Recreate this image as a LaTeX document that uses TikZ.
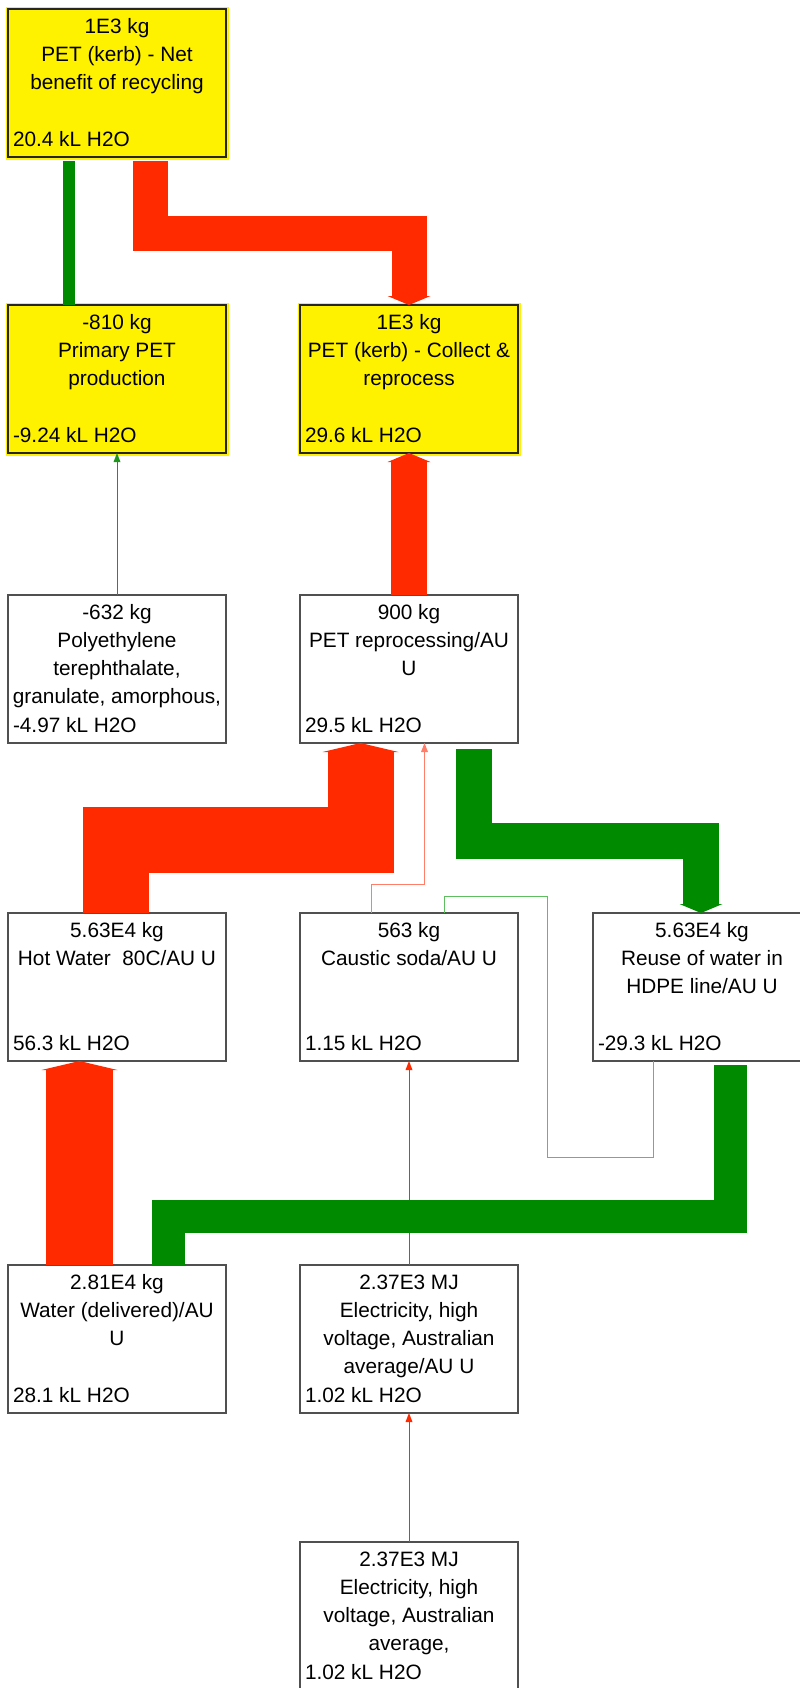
\documentclass[tikz,border=0pt]{standalone}
\usepackage{fontspec}
\setmainfont{Liberation Sans}
\usepackage{tikz}
\usetikzlibrary{positioning, calc, arrows.meta}
\definecolor{flowred}{RGB}{255,42,0}
\definecolor{flowgreen}{RGB}{0,138,0}
\definecolor{palered}{RGB}{255,125,105}
\definecolor{palegreen}{RGB}{95,190,95}
\definecolor{midgreen}{RGB}{30,150,30}
\definecolor{boxline}{RGB}{80,80,80}
\newcommand{\proctext}[2]{\parbox[c][74pt][t]{109pt}{\centering\rule{0pt}{12pt}#1\par\vskip 0pt plus 1fill\raggedright\hspace*{2.5pt}#2\par\vspace*{5.25pt}}}
\tikzstyle{procbox} = [rectangle, draw=boxline, line width=0.75pt, fill=white, inner sep=0pt, outer sep=0pt, font=\fontsize{10.4pt}{14pt}\selectfont]
\tikzstyle{netbox} = [procbox, draw=black!85, fill=yellow, preaction={draw=yellow, line width=2.5pt}]
\tikzstyle{redflow} = [color=flowred, line cap=butt, line join=miter]
\tikzstyle{greenflow} = [color=flowgreen, line cap=butt, line join=miter]
\tikzstyle{thinred} = [color=flowred, line width=0.5pt]
\tikzstyle{thinpalered} = [color=palered, line width=0.5pt]
\tikzstyle{thingreen} = [color=midgreen, line width=0.5pt]
\tikzstyle{thinpalegreen} = [color=palegreen, line width=0.5pt]
\tikzstyle{smallhead} = [-{Triangle[length=4.5pt, width=21.5pt, line width=0pt]}]
\tikzstyle{bighead} = [-{Triangle[length=4.5pt, width=38pt, line width=0pt]}]
\tikzstyle{thinhead} = [-{Triangle[length=4.5pt, width=3.5pt, line width=0pt]}]

\begin{document}
\begin{tikzpicture}[x=0.5pt, y=-0.5pt]
		\useasboundingbox (0,0) rectangle (799,1688);
		\node (netben) [netbox] at (117,83) {\proctext{1E3 kg\\PET (kerb) - Net\\benefit of recycling}{20.4 kL H2O}};
		\node (primary) [netbox, below=74pt of netben] {\proctext{-810 kg\\Primary PET\\production}{-9.24 kL H2O}};
		\node (collect) [netbox, right=37pt of primary] {\proctext{1E3 kg\\PET (kerb) - Collect \&\\reprocess}{29.6 kL H2O}};
		\node (polyeth) [procbox, below=71pt of primary] {\proctext{-632 kg\\Polyethylene\\terephthalate,\\granulate, amorphous,}{-4.97 kL H2O}};
		\node (reproc) [procbox, below=71pt of collect] {\proctext{900 kg\\PET reprocessing/AU\\U}{29.5 kL H2O}};
		\node (hotwater) [procbox, below=85pt of polyeth] {\proctext{5.63E4 kg\\Hot Water\ \ 80C/AU U}{56.3 kL H2O}};
		\node (caustic) [procbox, below=85pt of reproc] {\proctext{563 kg\\Caustic soda/AU U}{1.15 kL H2O}};
		\node (reuse) [procbox, right=37.5pt of caustic] {\proctext{5.63E4 kg\\Reuse of water in\\HDPE line/AU U}{-29.3 kL H2O}};
		\node (water) [procbox, below=102pt of hotwater] {\proctext{2.81E4 kg\\Water (delivered)/AU\\U}{28.1 kL H2O}};
		\node (elecau) [procbox, below=102pt of caustic] {\proctext{2.37E3 MJ\\Electricity, high\\voltage, Australian\\average/AU U}{1.02 kL H2O}};
		\node (elecavg) [procbox, below=64.5pt of elecau] {\proctext{2.37E3 MJ\\Electricity, high\\voltage, Australian\\average,}{1.02 kL H2O}};

		% thin flows
		\draw [thingreen, thinhead] (polyeth.north) -- (primary.south);
		\draw [thinred, thinhead] (elecau.north) -- (caustic.south);
		\draw [thinred, thinhead] (elecavg.north) -- (elecau.south);
		\draw [thinpalered, thinhead] ($(caustic.north)+(-37.5,0)$) |- ($(reproc.south)+(15.5,141)$) -- ($(reproc.south)+(15.5,0)$);
		\draw [thinpalegreen] ($(caustic.north)+(35.5,0)$) -- ++(0,-17) -| ($(reuse.south)+(-155,96)$) -| ($(reuse.south)+(-49,0)$);

		% thick flows
		\draw [greenflow, line width=6pt, shorten <=2pt] ($(netben.south)+(-48,0)$) -- ($(primary.north)+(-48,0)$);
		\draw [redflow, line width=17.5pt, smallhead, shorten <=2pt] ($(netben.south)+(33.5,0)$) |- ($(collect.north)+(0,-71.5)$) -- (collect.north);
		\draw [redflow, line width=18pt, smallhead] (reproc.north) -- (collect.south);
		\draw [redflow, line width=33pt, bighead] ($(hotwater.north)+(-1,0)$) |- ($(reproc.south)+(-48.5,96.5)$) -- ($(reproc.south)+(-48.5,0)$);
		\draw [greenflow, line width=18pt, smallhead, shorten <=3pt] ($(reproc.south)+(64.5,0)$) |- ($(reuse.north)+(-1,-72)$) -- ($(reuse.north)+(-1,0)$);
		\draw [redflow, line width=33.5pt, bighead] ($(water.north)+(-37.5,0)$) -- ($(hotwater.south)+(-37.5,0)$);
		\draw [greenflow, line width=16.5pt, shorten <=2pt] ($(reuse.south)+(28.5,0)$) |- ($(water.north)+(51.5,-49)$) -- ($(water.north)+(51.5,0)$);
\end{tikzpicture}
\end{document}
